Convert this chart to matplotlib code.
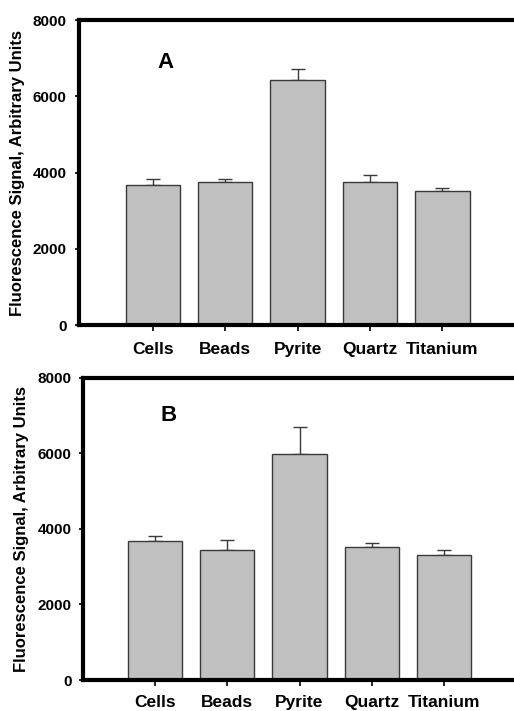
import matplotlib
matplotlib.use("Agg")
import matplotlib.pyplot as plt

# values
categories = ["Cells", "Beads", "Pyrite", "Quartz", "Titanium"]
means_a = [3670, 3750, 6425, 3760, 3525]
errs_a = [150, 90, 290, 165, 80]
means_b = [3670, 3450, 5970, 3510, 3300]
errs_b = [150, 245, 730, 115, 150]
y_ticks = [0, 2000, 4000, 6000, 8000]

plt.rcParams['font.family'] = ['Liberation Sans', 'DejaVu Sans']
plt.rcParams['font.weight'] = 'bold'

W, H = 514, 711
fig = plt.figure(figsize=(W / 100, H / 100), dpi=100)


def draw_panel(rect, means, errs, letter, letter_xy, xlim, ypad, xpad):
    ax = fig.add_axes(rect)
    x = list(range(len(categories)))
    ax.errorbar(x, means, yerr=[[0] * len(errs), errs], fmt='none',
                ecolor='#3a3a3a', elinewidth=1.0, capsize=5, capthick=1.0, zorder=1)
    ax.bar(x, means, width=0.75, color='#c0c0c0', edgecolor='#3a3a3a',
           linewidth=1.0, zorder=2)
    ax.set_xlim(*xlim)
    ax.set_ylim(0, 8000)
    ax.set_yticks(y_ticks)
    ax.set_xticks(x)
    ax.set_xticklabels(categories, fontsize=12.5, fontweight='bold')
    ax.set_yticklabels([str(t) for t in y_ticks], fontsize=11, fontweight='bold')
    ax.tick_params(axis='y', direction='out', length=3, width=1.2, pad=ypad)
    ax.tick_params(axis='x', direction='out', length=4, width=1.2, pad=xpad)
    for s in ax.spines.values():
        s.set_linewidth(3.0)
    ax.set_ylabel('Fluorescence Signal, Arbitrary Units', fontsize=12,
                  fontweight='bold')
    ax.text(letter_xy[0], letter_xy[1], letter, transform=fig.transFigure,
            fontsize=16, fontweight='bold', ha='center', va='center')
    return ax


# panel A: spines at x=79, y=20..325 px
ax_a = draw_panel([79 / W, (H - 325) / H, 441 / W, 305 / H],
                  means_a, errs_a, 'A', (166 / W, 1 - 62 / H),
                  (-1.017, 5.07), 6, 8)
ax_a.yaxis.set_label_coords(-0.122, 0.5)

# panel B: spines at x=83, y=378..680 px
ax_b = draw_panel([82.7 / W, (H - 680) / H, 437.3 / W, 302.3 / H],
                  means_b, errs_b, 'B', (169 / W, 1 - 415 / H),
                  (-1.0, 5.05), 5, 6.5)
ax_b.yaxis.set_label_coords(-0.123, 0.5)

fig.savefig('out.png', dpi=100)
